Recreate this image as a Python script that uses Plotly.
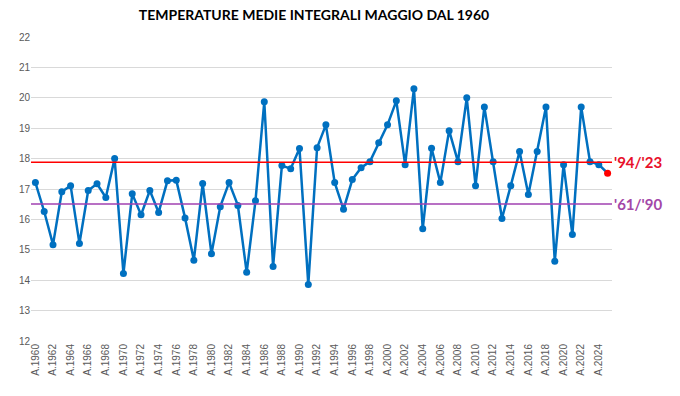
import plotly.graph_objects as go

years = list(range(1960, 2026))
temps = [17.21, 16.26, 15.17, 16.91, 17.11, 15.21, 16.95, 17.17, 16.72, 18.00,
         14.22, 16.84, 16.15, 16.95, 16.23, 17.27, 17.29, 16.05, 14.66, 17.18,
         14.87, 16.42, 17.21, 16.46, 14.26, 16.61, 19.87, 14.45, 17.77, 17.67,
         18.33, 13.86, 18.36, 19.11, 17.21, 16.33, 17.31, 17.70, 17.90, 18.52,
         19.11, 19.90, 17.80, 20.30, 15.69, 18.34, 17.21, 18.92, 17.90, 20.00,
         17.11, 19.70, 17.90, 16.03, 17.11, 18.23, 16.82, 18.23, 19.70, 14.62,
         17.80, 15.50, 19.70, 17.90, 17.80, 17.52]
mean_94_23 = 17.88
mean_61_90 = 16.51
tick_years = list(range(1960, 2025, 2))
tick_text = [f"A.{y}" for y in tick_years]

fig = go.Figure()
fig.add_trace(go.Scatter(
    x=years, y=temps,
    mode="lines+markers",
    line=dict(color="#0070C0", width=2.5),
    marker=dict(size=7, color=["#0070C0"] * (len(years) - 1) + ["#FF0000"]),
    showlegend=False,
))

fig.add_shape(type="line", xref="paper", x0=0, x1=1, yref="y",
              y0=mean_94_23, y1=mean_94_23, line=dict(color="#FF0000", width=1.5))
fig.add_shape(type="line", xref="paper", x0=0, x1=1, yref="y",
              y0=mean_61_90, y1=mean_61_90, line=dict(color="#A040B0", width=1.5))
fig.add_annotation(xref="paper", x=1.0, xanchor="left", y=mean_94_23, yanchor="middle",
                   text="<b>'94/'23</b>", showarrow=False,
                   font=dict(color="#E8102A", size=15, family="Lato"))
fig.add_annotation(xref="paper", x=1.0, xanchor="left", y=mean_61_90, yanchor="middle",
                   text="<b>'61/'90</b>", showarrow=False,
                   font=dict(color="#A347A8", size=15, family="Lato"))

fig.update_layout(
    width=680, height=396,
    margin=dict(l=31, r=68, t=37, b=55),
    paper_bgcolor="white", plot_bgcolor="white",
    title=dict(text="<b>TEMPERATURE MEDIE INTEGRALI MAGGIO DAL 1960</b>",
               x=314 / 680, xanchor="center", y=1 - 15 / 396, yanchor="middle",
               font=dict(size=14, color="black", family="Lato")),
    font=dict(family="Liberation Sans", color="#595959"),
)
fig.update_xaxes(range=[1959.5, 2025.5], tickmode="array", tickvals=tick_years,
                 ticktext=tick_text, tickangle=-90, tickfont=dict(size=10, color="#595959"),
                 showgrid=False, zeroline=False, showline=False, ticks="")
fig.update_yaxes(range=[12, 22], dtick=1, showgrid=True, gridcolor="#D9D9D9",
                 gridwidth=1, zeroline=False, showline=False,
                 tickfont=dict(size=10, color="#595959"), ticks="")

fig.write_html("out.html", config={"displayModeBar": False},
               post_script="document.body.style.margin='0';")
